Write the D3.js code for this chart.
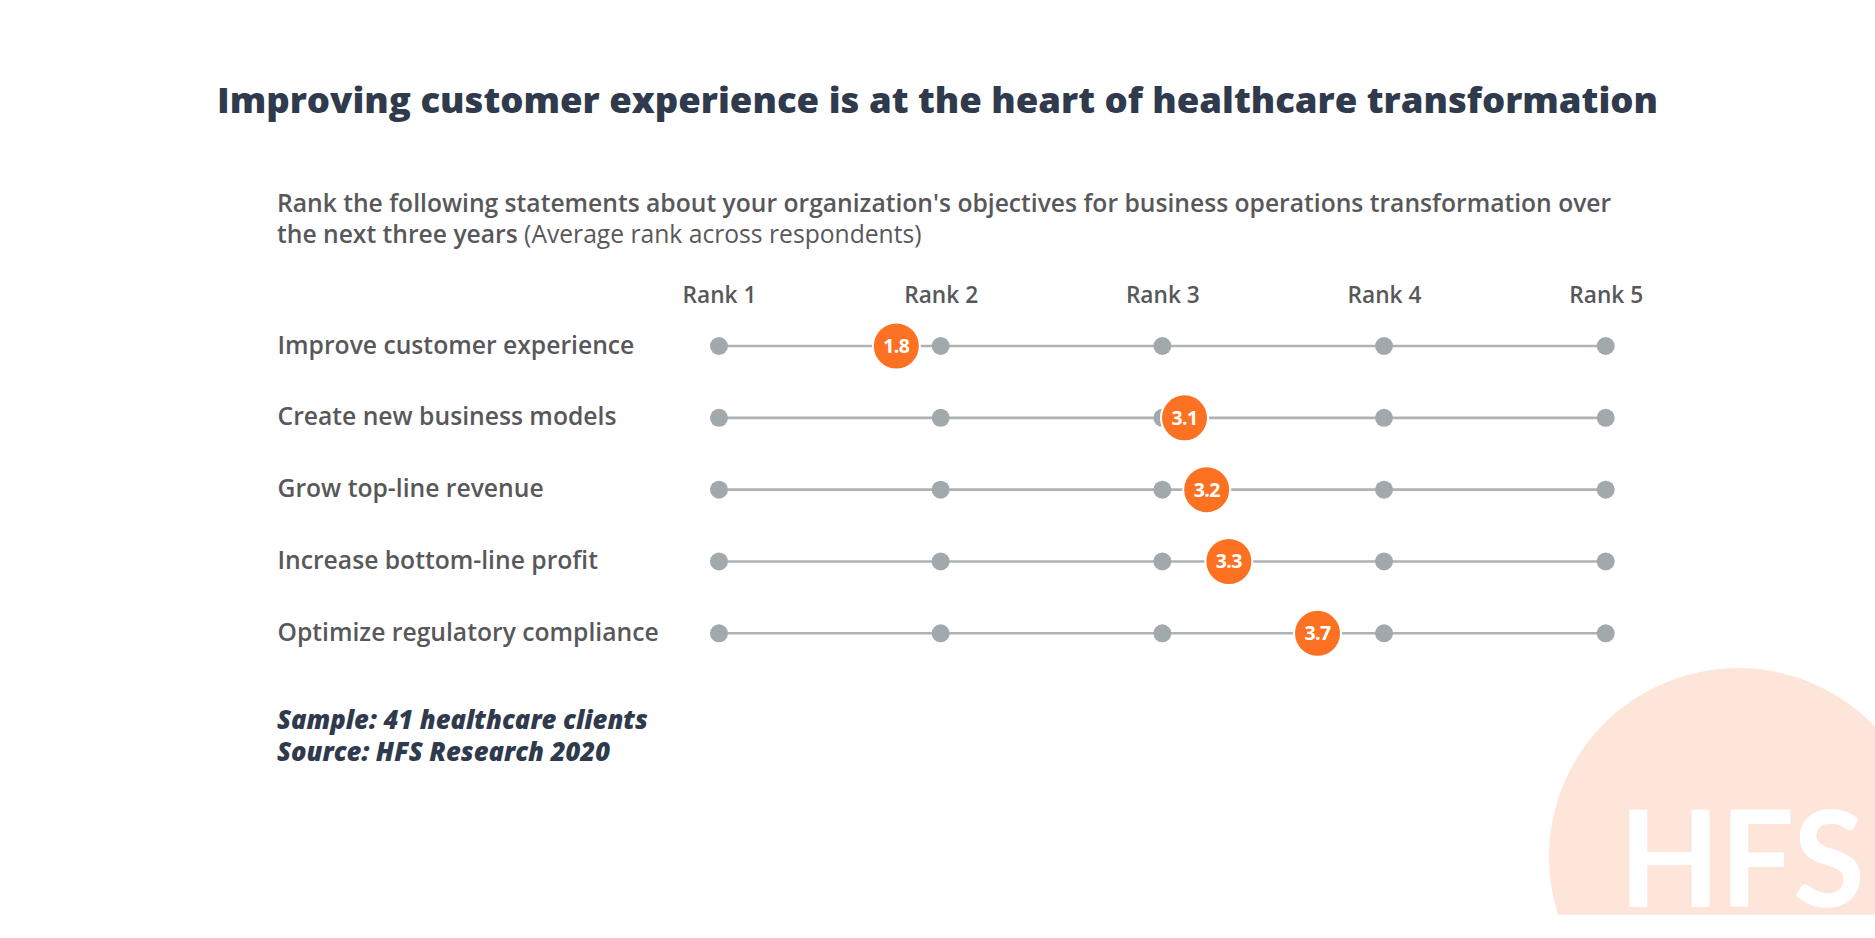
<!DOCTYPE html>
<html>
<head>
<meta charset="utf-8">
<script src="https://cdn.jsdelivr.net/npm/d3@7"></script>
<style>
  html, body { margin: 0; padding: 0; background: #ffffff; }
  svg { display: block; }
</style>
</head>
<body>
<svg id="chart" width="1875" height="938"></svg>
<script>
// ---------- data ----------
const categories = [
  "Improve customer experience",
  "Create new business models",
  "Grow top-line revenue",
  "Increase bottom-line profit",
  "Optimize regulatory compliance"
];
const avgRank = [1.8, 3.1, 3.2, 3.3, 3.7];
const rankTicks = [1, 2, 3, 4, 5];
const rankTickLabels = ["Rank 1", "Rank 2", "Rank 3", "Rank 4", "Rank 5"];

const titleText = "Improving customer experience is at the heart of healthcare transformation";
const subtitleBold1 = "Rank the following statements about your organization's objectives for business operations transformation over";
const subtitleBold2 = "the next three years";
const subtitleNormal2 = " (Average rank across respondents)";
const footnotes = ["Sample: 41 healthcare clients", "Source: HFS Research 2020"];

// ---------- styles ----------
const FONT = "'Open Sans', 'Noto Sans', sans-serif";
const TITLE_COLOR = "#2f3a4c";
const TEXT_GRAY = "#58585b";
const DOT_GRAY = "#a2a9ad";
const LINE_GRAY = "#aeb2b5";
const ORANGE = "#fc7222";

const svg = d3.select("#chart");

// background watermark circle (clipped)
svg.append("defs").append("clipPath").attr("id", "wm")
  .append("rect").attr("x", 0).attr("y", 0).attr("width", 1875).attr("height", 915);
const wm = svg.append("g").attr("clip-path", "url(#wm)");
wm.append("circle").attr("cx", 1738).attr("cy", 857).attr("r", 189).attr("fill", "#fde5d9");
svg.append("text").attr("x", 1619).attr("y", 907)
  .attr("font-family", "Lato, 'Open Sans', sans-serif").attr("font-weight", 700).attr("font-size", 135)
  .attr("fill", "#ffffff").attr("textLength", 246).attr("lengthAdjust", "spacingAndGlyphs")
  .text("HFS");

// helper: scale font-size so that a text node reaches a target width
function fitSize(sel, baseSize, target) {
  sel.attr("font-size", baseSize);
  const w = sel.node().getComputedTextLength();
  const s = baseSize * target / w;
  sel.attr("font-size", s);
  return s;
}

// title
svg.append("text")
  .attr("x", 937.5).attr("y", 113).attr("text-anchor", "middle")
  .attr("font-family", FONT).attr("font-weight", 800).attr("font-size", 36)
  .attr("fill", TITLE_COLOR)
  .attr("textLength", 1441).attr("lengthAdjust", "spacingAndGlyphs")
  .text(titleText);

// subtitle
const sub1 = svg.append("text")
  .attr("x", 277).attr("y", 212)
  .attr("font-family", FONT).attr("font-weight", 600).attr("fill", TEXT_GRAY)
  .text(subtitleBold1);
const subSize = fitSize(sub1, 20, 1335);
const sub2 = svg.append("text")
  .attr("x", 277).attr("y", 243)
  .attr("font-family", FONT).attr("font-size", subSize).attr("fill", TEXT_GRAY);
sub2.append("tspan").attr("font-weight", 600).text(subtitleBold2);
sub2.append("tspan").attr("font-weight", 400).text(subtitleNormal2);

// scales
const x = d3.scaleLinear().domain([1, 5]).range([719, 1605.7]);
const y = d3.scalePoint().domain(categories).range([346, 633.3]);

// rank header axis
const axisG = svg.append("g").attr("transform", "translate(0,303)")
  .call(d3.axisTop(x).tickValues(rankTicks).tickSize(0).tickPadding(0)
    .tickFormat((d, i) => rankTickLabels[i]));
axisG.select(".domain").remove();
axisG.selectAll("text")
  .attr("font-family", FONT).attr("font-weight", 600).attr("fill", TEXT_GRAY)
  .attr("dy", 0).attr("y", 0);
const rankSize = fitSize(axisG.select("text"), 20, 74);
axisG.selectAll("text").attr("font-size", rankSize);

// rows
const rows = svg.append("g").selectAll("g.row")
  .data(categories.map((c, i) => ({ cat: c, v: avgRank[i] })))
  .join("g").attr("class", "row")
  .attr("transform", d => `translate(0,${y(d.cat)})`);

// labels
const labels = rows.append("text")
  .attr("x", 277.5).attr("y", 7.5)
  .attr("font-family", FONT).attr("font-weight", 600).attr("fill", TEXT_GRAY)
  .text(d => d.cat);
const labSize = fitSize(d3.select(labels.nodes()[0]), 20, 357);
labels.attr("font-size", labSize);

// track lines
rows.append("line")
  .attr("x1", x(1)).attr("x2", x(5)).attr("y1", 0).attr("y2", 0)
  .attr("stroke", LINE_GRAY).attr("stroke-width", 2.6);

// rank dots
rows.selectAll("circle.tick")
  .data(rankTicks)
  .join("circle").attr("class", "tick")
  .attr("cx", d => x(d)).attr("cy", 0).attr("r", 9)
  .attr("fill", DOT_GRAY);

// value markers
rows.append("circle")
  .attr("cx", d => x(d.v)).attr("cy", 0).attr("r", 23.5)
  .attr("fill", ORANGE).attr("stroke", "#ffffff").attr("stroke-width", 2);
rows.append("text")
  .attr("x", d => x(d.v)).attr("y", 7).attr("text-anchor", "middle")
  .attr("font-family", FONT).attr("font-weight", 700).attr("font-size", 19.5)
  .attr("letter-spacing", -0.6)
  .attr("fill", "#ffffff")
  .text(d => d3.format(".1f")(d.v));

// footnotes
const fn = svg.append("g").selectAll("text")
  .data(footnotes).join("text")
  .attr("x", 277).attr("y", (d, i) => 729 + i * 32)
  .attr("font-family", FONT).attr("font-weight", 800).attr("font-style", "italic")
  .attr("fill", TITLE_COLOR)
  .text(d => d);
const fnSize = fitSize(d3.select(fn.nodes()[0]), 20, 371);
fn.attr("font-size", fnSize);
</script>
</body>
</html>
